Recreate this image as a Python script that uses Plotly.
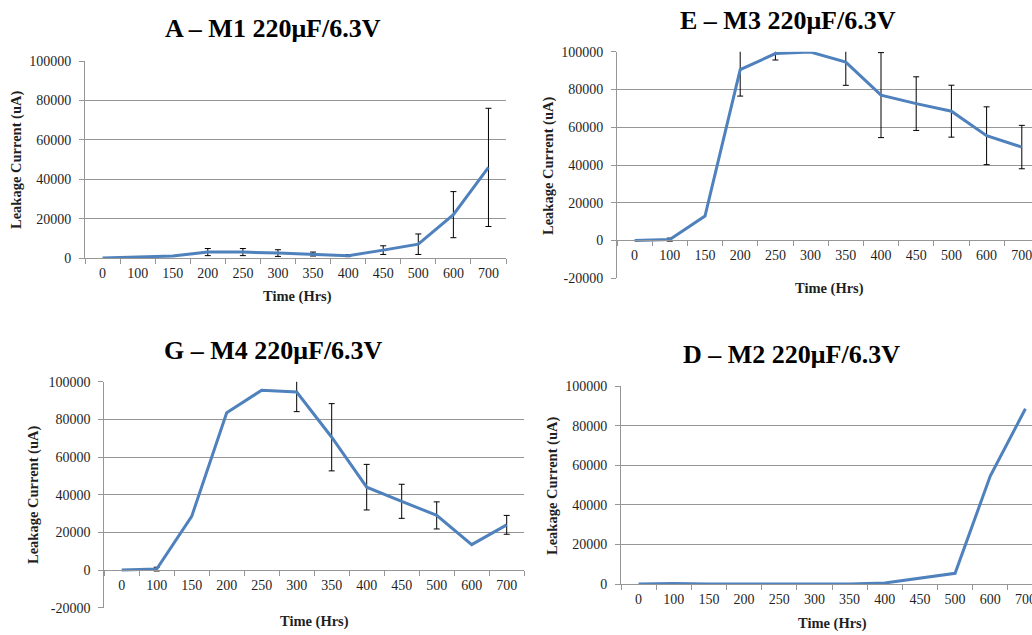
import plotly.graph_objects as go

W, H = 1032, 635

hours = ["0", "100", "150", "200", "250", "300", "350", "400", "450", "500", "600", "700"]

titles = ["A – M1 220μF/6.3V", "E – M3 220μF/6.3V", "G – M4 220μF/6.3V", "D – M2 220μF/6.3V"]

a_vals = [0, 500, 1000, 3000, 3000, 2500, 2000, 1200, 4000, 7000, 22000, 46000]
a_err = [None, None, None, 1800, 1800, 1700, 1000, 500, 2200, 5200, 11700, 30000]

e_vals = [0, 500, 13000, 90500, 99000, 99800, 94500, 77000, 72500, 68500, 55500, 49500]
e_err = [None, 800, None, 14000, 3400, None, 12300, 22500, 14200, 13750, 15300, 11500]

g_vals = [0, 500, 28500, 83500, 95500, 94500, 70500, 44000, 36500, 29000, 13500, 24000]
g_err = [None, 1000, None, None, None, 10400, 17850, 12100, 9050, 7200, None, 5000]

d_vals = [0, 300, 0, 0, 0, 0, 0, 500, 2800, 5400, 54500, 88500]
d_err = [None] * 12

ytick_pos = [0, 20000, 40000, 60000, 80000, 100000]
ytick_txt = ["0", "20000", "40000", "60000", "80000", "100000"]
ytick_pos_neg = [-20000, 0, 20000, 40000, 60000, 80000, 100000]
ytick_txt_neg = ["-20000", "0", "20000", "40000", "60000", "80000", "100000"]

x_title = "Time (Hrs)"
y_title = "Leakage Current (uA)"

LINE = "#4F81BD"
GRID = "#969696"
TXT = "#1f1f1f"
FONT = "Liberation Serif"


def fx(px):
    return px / W


def fy(py):
    return 1 - py / H


panels = [
    dict(vals=a_vals, err=a_err, x0=85, x1=506, yt=61, yb=258, yz=258, yr=[0, 100000], neg=False,
         tpos=(273, 29), ytp=(16, 160), xtp=(297, 297)),
    dict(vals=e_vals, err=e_err, x0=617, x1=1039.4, yt=51.7, yb=278.3, yz=240, yr=[-20000, 100000], neg=True,
         tpos=(788, 21), ytp=(548, 166), xtp=(829, 288)),
    dict(vals=g_vals, err=g_err, x0=104.2, x1=524.2, yt=381.7, yb=607.7, yz=570, yr=[-20000, 100000], neg=True,
         tpos=(273, 351), ytp=(34, 495), xtp=(314, 621)),
    dict(vals=d_vals, err=d_err, x0=621, x1=1043, yt=386, yb=584, yz=584, yr=[0, 100000], neg=False,
         tpos=(791, 354), ytp=(552, 486), xtp=(832, 623)),
]

fig = go.Figure()
annotations = []
layout = {}

for i, p in enumerate(panels):
    n = i + 1
    xa = "x" if n == 1 else f"x{n}"
    ya = "y" if n == 1 else f"y{n}"
    xkey = "xaxis" if n == 1 else f"xaxis{n}"
    ykey = "yaxis" if n == 1 else f"yaxis{n}"

    ex = [h for h, e in zip(hours, p["err"]) if e is not None]
    ey = [v for v, e in zip(p["vals"], p["err"]) if e is not None]
    ee = [e for e in p["err"] if e is not None]
    if ex:
        fig.add_trace(go.Scatter(
            x=ex, y=ey, mode="markers", xaxis=xa, yaxis=ya,
            marker=dict(size=2, color="rgba(0,0,0,0)"),
            error_y=dict(type="data", array=ee, symmetric=True, color="black", thickness=1, width=3),
            showlegend=False, hoverinfo="skip"))

    fig.add_trace(go.Scatter(
        x=hours, y=p["vals"], mode="lines", xaxis=xa, yaxis=ya,
        line=dict(color=LINE, width=3), showlegend=False))

    spacing = (p["x1"] - p["x0"]) / 12.0
    right = min(p["x1"], W)
    upper = 11.5 - (p["x1"] - right) / spacing

    xdict = dict(
        type="category", categoryorder="array", categoryarray=hours,
        domain=[fx(p["x0"]), fx(right)], range=[-0.5, upper],
        showgrid=False, showline=True, linecolor=GRID, linewidth=1,
        ticks="outside", tickson="boundaries", ticklen=5, tickcolor=GRID,
        tickfont=dict(family=FONT, size=14, color=TXT), ticklabelstandoff=2,
        zeroline=False, fixedrange=True, automargin=False,
    )
    if p["neg"]:
        xdict.update(anchor="free", position=fy(p["yz"]))
    else:
        xdict.update(anchor=ya)
    layout[xkey] = xdict

    layout[ykey] = dict(
        domain=[fy(p["yb"]), fy(p["yt"])], range=p["yr"], anchor=xa,
        tickvals=ytick_pos_neg if p["neg"] else ytick_pos,
        ticktext=ytick_txt_neg if p["neg"] else ytick_txt,
        showgrid=True, gridcolor=GRID, gridwidth=1,
        showline=True, linecolor=GRID, linewidth=1,
        ticks="outside", ticklen=5, tickcolor=GRID,
        tickfont=dict(family=FONT, size=14, color=TXT), ticklabelstandoff=5,
        zeroline=False, fixedrange=True, automargin=False,
    )

    annotations.append(dict(
        text=f"<b>{titles[i]}</b>", x=fx(p["tpos"][0]), y=fy(p["tpos"][1]),
        xref="paper", yref="paper", xanchor="center", yanchor="middle",
        showarrow=False, font=dict(family=FONT, size=26, color="black")))
    annotations.append(dict(
        text=f"<b>{y_title}</b>", x=fx(p["ytp"][0]), y=fy(p["ytp"][1]),
        xref="paper", yref="paper", xanchor="center", yanchor="middle", textangle=-90,
        showarrow=False, font=dict(family=FONT, size=14.5, color=TXT)))
    annotations.append(dict(
        text=f"<b>{x_title}</b>", x=fx(p["xtp"][0]), y=fy(p["xtp"][1]),
        xref="paper", yref="paper", xanchor="center", yanchor="middle",
        showarrow=False, font=dict(family=FONT, size=14.5, color=TXT)))

fig.update_layout(
    width=W, height=H,
    margin=dict(l=0, r=0, t=0, b=0, pad=0, autoexpand=False),
    font=dict(family=FONT, size=14, color=TXT),
    paper_bgcolor="white", plot_bgcolor="white",
    annotations=annotations,
    **layout,
)

fig.write_html("out.html", config={"displayModeBar": False},
               post_script="document.body.style.margin='0px';")
